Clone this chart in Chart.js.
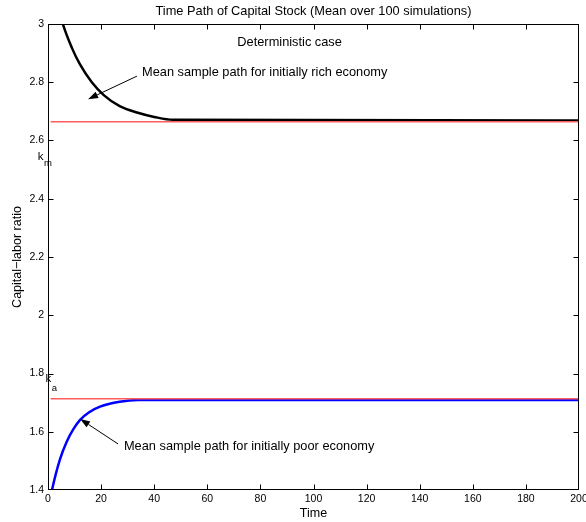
<!DOCTYPE html>
<html>
<head>
<meta charset="utf-8">
<script src="https://cdn.jsdelivr.net/npm/chart.js@4/dist/chart.umd.min.js"></script>
<style>
  html, body { margin: 0; padding: 0; background: #fff; }
</style>
</head>
<body>
<canvas id="capitalChart" width="586" height="522"></canvas>
<script>
// values
const richTime = [0, 5.6, 9, 12, 16.5, 21, 27, 33.5, 40, 47, 200];
const richPath = [3.2, 3.0, 2.918, 2.862, 2.80, 2.756, 2.718, 2.696, 2.681, 2.671, 2.669];
const poorTime = [0, 1.5, 4.5, 7, 9.5, 12, 15.5, 19.6, 27, 34, 200];
const poorPath = [1.33, 1.40, 1.505, 1.565, 1.608, 1.64, 1.667, 1.686, 1.703, 1.709, 1.709];
const steadyTime = [1, 200];
const kRich = 2.664;   // k_m
const kPoor = 1.7135;  // k_a
const xTicks = [0, 20, 40, 60, 80, 100, 120, 140, 160, 180, 200];
const yTicks = [1.4, 1.6, 1.8, 2, 2.2, 2.4, 2.6, 2.8, 3];
const yTickLabels = ['1.4', '1.6', '1.8', '2', '2.2', '2.4', '2.6', '2.8', '3'];

const FONT = '"Liberation Sans", Arial, Helvetica, sans-serif';
const toPoints = (xs, ys) => xs.map((x, i) => ({ x, y: ys[i] }));

// frame, inward tick marks, text notes and arrows
const decorations = {
    id: 'decorations',
    afterDatasetsDraw(chart) {
        const { ctx, chartArea: a, scales: { x, y } } = chart;
        const L = Math.round(a.left) + 0.5, R = Math.round(a.right) - 0.5;
        const T = Math.round(a.top) + 0.5, B = Math.round(a.bottom) - 0.5;
        ctx.save();
        ctx.strokeStyle = '#000';
        ctx.lineWidth = 1;
        ctx.strokeRect(L, T, R - L, B - T);
        ctx.beginPath();
        xTicks.slice(1, -1).forEach(v => {
            const px = Math.round(x.getPixelForValue(v)) + 0.5;
            ctx.moveTo(px, B); ctx.lineTo(px, B - 5);
            ctx.moveTo(px, T); ctx.lineTo(px, T + 5);
        });
        yTicks.slice(1, -1).forEach(v => {
            const py = Math.round(y.getPixelForValue(v)) + 0.5;
            ctx.moveTo(L, py); ctx.lineTo(L + 5, py);
            ctx.moveTo(R, py); ctx.lineTo(R - 5, py);
        });
        ctx.stroke();

        const px = (t) => x.getPixelForValue(t);
        const py = (k) => y.getPixelForValue(k);
        ctx.fillStyle = '#000';
        ctx.textBaseline = 'middle';
        ctx.font = '12.8px ' + FONT;
        ctx.textAlign = 'center';
        ctx.fillText('Deterministic case', px(91), py(2.935));
        ctx.textAlign = 'left';
        ctx.fillText('Mean sample path for initially rich economy', px(35.4), py(2.832));
        ctx.fillText('Mean sample path for initially poor economy', px(28.6), py(1.551));

        // k_m and k_a labels
        ctx.font = '11.5px ' + FONT;
        ctx.fillText('k', px(-3.9), py(2.544));
        ctx.fillText('k', px(-0.9), py(1.783));
        ctx.font = '9.5px ' + FONT;
        ctx.fillText('m', px(-1.5), py(2.521));
        ctx.fillText('a', px(1.4), py(1.750));

        const arrow = (t0, k0, t1, k1) => {
            const x0 = px(t0), y0 = py(k0), x1 = px(t1), y1 = py(k1);
            const ang = Math.atan2(y1 - y0, x1 - x0);
            const len = 10, half = 3.5;
            const bx = x1 - len * Math.cos(ang), by = y1 - len * Math.sin(ang);
            ctx.beginPath();
            ctx.moveTo(x0, y0); ctx.lineTo(bx, by);
            ctx.stroke();
            ctx.beginPath();
            ctx.moveTo(x1, y1);
            ctx.lineTo(bx + half * Math.sin(ang), by - half * Math.cos(ang));
            ctx.lineTo(bx - half * Math.sin(ang), by + half * Math.cos(ang));
            ctx.closePath();
            ctx.fill();
        };
        arrow(33.5, 2.821, 15.1, 2.742);
        arrow(26.4, 1.558, 12.1, 1.644);
        ctx.restore();
    }
};

const ctx = document.getElementById('capitalChart').getContext('2d');
const chart = new Chart(ctx, {
    type: 'line',
    data: {
        datasets: [
            { data: toPoints(steadyTime, [kRich, kRich]), borderColor: '#ff5c5c', borderWidth: 1.5 },
            { data: toPoints(steadyTime, [kPoor, kPoor]), borderColor: '#ff5c5c', borderWidth: 1.5 },
            { data: toPoints(richTime, richPath), borderColor: '#000', borderWidth: 2.5, cubicInterpolationMode: 'monotone' },
            { data: toPoints(poorTime, poorPath), borderColor: '#0000ff', borderWidth: 2.5, cubicInterpolationMode: 'monotone' }
        ]
    },
    options: {
        responsive: false,
        animation: false,
        events: [],
        elements: { point: { radius: 0 } },
        layout: { padding: { left: 0, right: 7, top: 0, bottom: 0 } },
        plugins: {
            legend: { display: false },
            tooltip: { enabled: false },
            title: {
                display: true,
                fullSize: false,
                text: 'Time Path of Capital Stock (Mean over 100 simulations)',
                color: '#000',
                font: { family: FONT, size: 12.8, weight: 'normal', lineHeight: '14px' },
                padding: { top: 4, bottom: 6 }
            }
        },
        scales: {
            x: {
                type: 'linear',
                min: 0,
                max: 200,
                afterBuildTicks: (s) => { s.ticks = xTicks.map(v => ({ value: v })); },
                ticks: { color: '#000', font: { family: FONT, size: 10.5 }, padding: 3, maxRotation: 0 },
                grid: { display: false, drawTicks: false },
                border: { display: false },
                title: { display: true, text: 'Time', color: '#000', font: { family: FONT, size: 12.5 }, padding: { top: 0, bottom: 1 } },
                afterFit: (s) => { s.height = 32; s.paddingLeft = 0; s.paddingRight = 0; }
            },
            y: {
                type: 'linear',
                min: 1.4,
                max: 3,
                afterBuildTicks: (s) => { s.ticks = yTicks.map(v => ({ value: v })); },
                ticks: {
                    color: '#000', font: { family: FONT, size: 10.5 }, padding: 4,
                    callback: (v) => yTickLabels[yTicks.findIndex(t => Math.abs(t - v) < 1e-9)]
                },
                grid: { display: false, drawTicks: false },
                border: { display: false },
                title: { display: true, text: 'Capital\u2212labor ratio', color: '#000', font: { family: FONT, size: 12.5 }, padding: { top: 10, bottom: 0 } },
                afterFit: (s) => { s.width = 48; s.paddingTop = 0; s.paddingBottom = 0; }
            }
        }
    },
    plugins: [decorations]
});
</script>
</body>
</html>
